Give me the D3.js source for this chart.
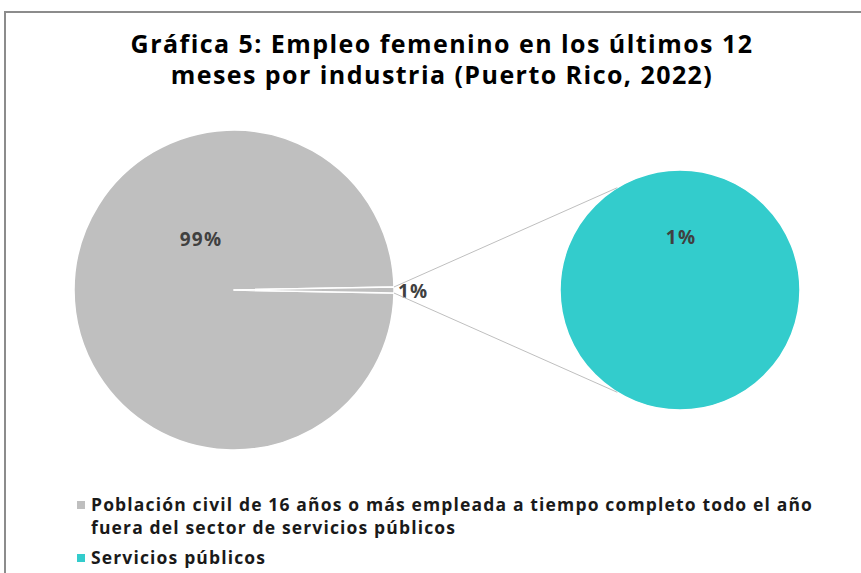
<!DOCTYPE html>
<html>
<head>
<meta charset="utf-8">
<script src="https://cdn.jsdelivr.net/npm/d3@7"></script>
<style>
  html, body { margin: 0; padding: 0; background: #fff; }
  text { font-family: "Open Sans", "Noto Sans", sans-serif; }
</style>
</head>
<body>
<div id="chart"></div>
<script>
const categories = [
  'Población civil de 16 años o más empleada a tiempo completo todo el año fuera del sector de servicios públicos',
  'Servicios públicos',
]
const shares = [99.4, 0.6]
const labels = ['99%', '1%']
const secondShares = [0.6]
const secondLabels = ['1%']
const titleLines = [
  'Gráfica 5: Empleo femenino en los últimos 12',
  'meses por industria (Puerto Rico, 2022)',
]
const legendLines = [
  ['Población civil de 16 años o más empleada a tiempo completo todo el año', 'fuera del sector de servicios públicos'],
  ['Servicios públicos'],
]
const colors = ['#bfbfbf', '#33cccc']

const width = 861
const height = 573

const svg = d3.select('#chart').append('svg')
    .attr('width', width)
    .attr('height', height)

// frame
svg.append('rect')
    .attr('x', 5)
    .attr('y', 12)
    .attr('width', width + 20)
    .attr('height', height + 20)
    .attr('fill', '#fff')
    .attr('stroke', '#8c8c8c')
    .attr('stroke-width', 2)

// title
svg.append('text')
    .attr('x', 442)
    .attr('y', 53)
    .attr('text-anchor', 'middle')
    .attr('font-size', 25)
    .attr('font-weight', 700)
    .attr('letter-spacing', 1.45)
    .attr('fill', '#000')
  .selectAll('tspan')
  .data(titleLines)
  .join('tspan')
    .attr('x', 442)
    .attr('dy', (d, i) => i ? 31 : 0)
    .text(d => d)

// main pie
const main = { cx: 234, cy: 290, r: 160 }
const half = Math.PI * shares[1] / d3.sum(shares)

const pie = d3.pie()
    .sort(null)
    .startAngle(Math.PI / 2 + half)
    .endAngle(Math.PI / 2 + half + 2 * Math.PI)

const arcMain = d3.arc().innerRadius(0).outerRadius(main.r)
const mainArcs = pie(shares)

const gMain = svg.append('g')
    .attr('transform', `translate(${main.cx},${main.cy})`)

gMain.selectAll('path')
  .data(mainArcs)
  .join('path')
    .attr('d', arcMain)
    .attr('fill', colors[0])
    .attr('stroke', '#fff')
    .attr('stroke-width', 1.5)
    .attr('stroke-linejoin', 'round')

// second pie
const second = { cx: 680, cy: 290, r: 120 }
const pie2 = d3.pie()
    .sort(null)
    .startAngle(Math.PI / 2)
    .endAngle(Math.PI / 2 + 2 * Math.PI)

const arcSecond = d3.arc().innerRadius(0).outerRadius(second.r)

const gSecond = svg.append('g')
    .attr('transform', `translate(${second.cx},${second.cy})`)

gSecond.selectAll('path')
  .data(pie2(secondShares))
  .join('path')
    .attr('d', arcSecond)
    .attr('fill', colors[1])
    .attr('stroke', '#fff')
    .attr('stroke-width', 1.5)

// connector lines
function polar(c, r, a) {
  return [c.cx + r * Math.sin(a), c.cy - r * Math.cos(a)]
}
const small = mainArcs[1]
const joinAngle = 0.55
const connectors = [
  [polar(main, main.r, small.startAngle), polar(second, second.r, -joinAngle)],
  [polar(main, main.r, small.endAngle), polar(second, second.r, Math.PI + joinAngle)],
]

svg.append('g').selectAll('line')
  .data(connectors)
  .join('line')
    .attr('x1', d => d[0][0])
    .attr('y1', d => d[0][1])
    .attr('x2', d => d[1][0])
    .attr('y2', d => d[1][1])
    .attr('stroke', '#bfbfbf')
    .attr('stroke-width', 1)

// data labels
const labelStyle = sel => sel
    .attr('font-size', 19)
    .attr('font-weight', 700)
    .attr('letter-spacing', 1.2)
    .attr('fill', '#404040')
    .attr('dominant-baseline', 'central')

gMain.append('text')
    .call(labelStyle)
    .attr('x', -33)
    .attr('y', -51)
    .attr('text-anchor', 'middle')
    .text(labels[0])

gMain.append('text')
    .call(labelStyle)
    .attr('x', main.r + 4)
    .attr('y', 1)
    .attr('text-anchor', 'start')
    .text(labels[1])

gSecond.append('text')
    .call(labelStyle)
    .attr('x', 1)
    .attr('y', -53)
    .attr('text-anchor', 'middle')
    .text(secondLabels[0])

// legend
const legend = svg.append('g')
    .attr('transform', 'translate(77,0)')

const legendTops = [511, 564]

const items = legend.selectAll('g')
  .data(categories)
  .join('g')
    .attr('transform', (d, i) => `translate(0,${legendTops[i]})`)

items.append('rect')
    .attr('x', 0)
    .attr('y', -10)
    .attr('width', 8)
    .attr('height', 8)
    .attr('fill', (d, i) => colors[i])

items.append('text')
    .attr('font-size', 17.5)
    .attr('font-weight', 700)
    .attr('letter-spacing', 1.15)
    .attr('fill', '#1a1a1a')
  .selectAll('tspan')
  .data((d, i) => legendLines[i])
  .join('tspan')
    .attr('x', 14)
    .attr('dy', (d, i) => i ? 22.5 : 0)
    .text(d => d)
</script>
</body>
</html>
